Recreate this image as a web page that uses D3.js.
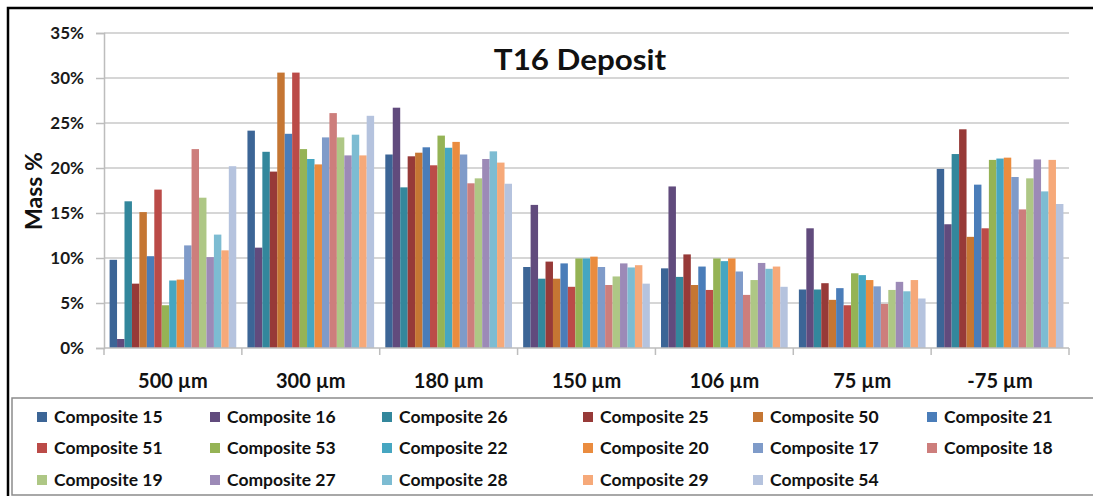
<!DOCTYPE html>
<html>
<head>
<meta charset="utf-8">
<script src="https://cdn.jsdelivr.net/npm/d3@7/dist/d3.min.js"></script>
<style>
  html, body { margin: 0; padding: 0; background: #fff; }
  svg { display: block; font-family: Lato, "Open Sans", sans-serif; }
</style>
</head>
<body>
<svg id="chart" width="1093" height="496"></svg>
<script>
// Size fractions of the T16 deposit, mass % retained per composite sample
const categories = ["500 µm", "300 µm", "180 µm", "150 µm", "106 µm", "75 µm", "-75 µm"];
const seriesNames = [
  "Composite 15", "Composite 16", "Composite 26", "Composite 25", "Composite 50", "Composite 21",
  "Composite 51", "Composite 53", "Composite 22", "Composite 20", "Composite 17", "Composite 18",
  "Composite 19", "Composite 27", "Composite 28", "Composite 29", "Composite 54"
];
const seriesColors = [
  "#3c6596", "#614b7d", "#33879c", "#973a38", "#c57633", "#4a7db9",
  "#bb4b48", "#95b355", "#46a6c1", "#ea8c3f", "#7f9bc9", "#cd7e7c",
  "#aec785", "#9c8ab7", "#7dbcd2", "#f6a979", "#b5c3de"
];
// one array per composite, one value per size class
const comp15 = [0.098, 0.2415, 0.215, 0.090, 0.0885, 0.065, 0.199];
const comp16 = [0.010, 0.1115, 0.267, 0.159, 0.1795, 0.133, 0.1375];
const comp26 = [0.163, 0.218, 0.1785, 0.077, 0.079, 0.065, 0.2155];
const comp25 = [0.0715, 0.196, 0.213, 0.096, 0.104, 0.072, 0.243];
const comp50 = [0.151, 0.306, 0.217, 0.077, 0.070, 0.0535, 0.1235];
const comp21 = [0.102, 0.238, 0.223, 0.094, 0.0905, 0.0665, 0.1815];
const comp51 = [0.176, 0.306, 0.203, 0.068, 0.0645, 0.0475, 0.133];
const comp53 = [0.0475, 0.221, 0.236, 0.0995, 0.0995, 0.083, 0.209];
const comp22 = [0.075, 0.210, 0.2225, 0.0995, 0.0965, 0.081, 0.2105];
const comp20 = [0.076, 0.204, 0.229, 0.1015, 0.0995, 0.0755, 0.2115];
const comp17 = [0.114, 0.234, 0.215, 0.090, 0.085, 0.0685, 0.190];
const comp18 = [0.221, 0.261, 0.183, 0.070, 0.059, 0.049, 0.154];
const comp19 = [0.167, 0.234, 0.1885, 0.0795, 0.0755, 0.0645, 0.1885];
const comp27 = [0.101, 0.214, 0.210, 0.094, 0.0945, 0.0735, 0.2095];
const comp28 = [0.126, 0.237, 0.2185, 0.0895, 0.088, 0.063, 0.174];
const comp29 = [0.1085, 0.214, 0.206, 0.092, 0.0905, 0.0755, 0.209];
const comp54 = [0.202, 0.258, 0.1825, 0.0715, 0.068, 0.055, 0.160];
const values = [comp15, comp16, comp26, comp25, comp50, comp21, comp51, comp53, comp22,
                comp20, comp17, comp18, comp19, comp27, comp28, comp29, comp54];
const yTicks = [0, 0.05, 0.10, 0.15, 0.20, 0.25, 0.30, 0.35];

const svg = d3.select("#chart");
const plot = { left: 104, right: 1069, top: 33, bottom: 348 };

// outer chart frame
svg.append("path")
  .attr("d", "M1093,8 H8 V496")
  .attr("fill", "none").attr("stroke", "#000").attr("stroke-width", 2.5);

const x0 = d3.scaleBand().domain(categories).range([plot.left, plot.right]).padding(0);
const x1 = d3.scaleBand().domain(d3.range(seriesNames.length))
  .range([0, x0.bandwidth()]).paddingInner(0).paddingOuter(0.75);
const y = d3.scaleLinear().domain([0, 0.35]).range([plot.bottom, plot.top]);

// horizontal gridlines
svg.append("g").selectAll("line").data(yTicks.slice(1)).join("line")
  .attr("x1", plot.left).attr("x2", plot.right)
  .attr("y1", d => y(d)).attr("y2", d => y(d))
  .attr("stroke", "#c8c8c8").attr("stroke-width", 1.6);

// y axis
const yAxis = svg.append("g").attr("transform", `translate(${plot.left},0)`)
  .call(d3.axisLeft(y).tickValues(yTicks).tickFormat(d3.format(".0%")).tickSize(8).tickPadding(12));
yAxis.select(".domain").attr("stroke", "#bdbdbd").attr("stroke-width", 1.5);
yAxis.selectAll(".tick line").attr("stroke", "#bdbdbd").attr("stroke-width", 1.5);
yAxis.selectAll(".tick text")
  .attr("font-family", "Lato, sans-serif").attr("font-size", 17).attr("font-weight", 700).attr("fill", "#1a1a1a");

// bars
const groups = svg.append("g").selectAll("g").data(categories).join("g")
  .attr("transform", d => `translate(${x0(d)},0)`);
groups.selectAll("rect")
  .data((c, ci) => values.map((v, si) => ({ si, v: v[ci] })))
  .join("rect")
  .attr("x", d => x1(d.si))
  .attr("width", x1.bandwidth())
  .attr("y", d => y(d.v))
  .attr("height", d => y(0) - y(d.v))
  .attr("fill", d => seriesColors[d.si]);

// x axis with ticks between categories
const xAxisG = svg.append("g");
xAxisG.append("line")
  .attr("x1", plot.left).attr("x2", plot.right)
  .attr("y1", plot.bottom).attr("y2", plot.bottom)
  .attr("stroke", "#bdbdbd").attr("stroke-width", 1.5);
const boundaries = categories.map(c => x0(c)).concat([x0(categories[categories.length - 1]) + x0.bandwidth()]);
xAxisG.selectAll("line.tk").data(boundaries).join("line").attr("class", "tk")
  .attr("x1", d => d).attr("x2", d => d)
  .attr("y1", plot.bottom).attr("y2", plot.bottom + 7)
  .attr("stroke", "#bdbdbd").attr("stroke-width", 1.5);
xAxisG.selectAll("text").data(categories).join("text")
  .attr("x", d => x0(d) + x0.bandwidth() / 2)
  .attr("y", 388)
  .attr("text-anchor", "middle")
  .attr("font-size", 20).attr("font-weight", 700).attr("fill", "#111")
  .text(d => d);

// axis title
svg.append("text")
  .attr("transform", "translate(42,191) rotate(-90)")
  .attr("text-anchor", "middle")
  .attr("font-size", 23).attr("font-weight", 700).attr("fill", "#111")
  .text("Mass %");

// chart title
svg.append("text")
  .attr("transform", "translate(580,70) scale(1.1,1)")
  .attr("text-anchor", "middle")
  .attr("font-size", 28.5).attr("font-weight", 700).attr("fill", "#111")
  .text("T16 Deposit");

// legend box
svg.append("path")
  .attr("d", "M1093,398 H12 V495 H1093")
  .attr("fill", "none").attr("stroke", "#8c8c8c").attr("stroke-width", 1.5);

const legendCols = [37, 210, 382, 583, 753, 927];
const legendRows = [417, 448, 480];
const legend = svg.append("g").selectAll("g").data(seriesNames).join("g")
  .attr("transform", (d, i) => `translate(${legendCols[i % 6]},${legendRows[Math.floor(i / 6)]})`);
legend.append("rect")
  .attr("x", 0).attr("y", -5).attr("width", 10).attr("height", 10)
  .attr("fill", (d, i) => seriesColors[i]);
legend.append("text")
  .attr("x", 17).attr("y", 6)
  .attr("font-size", 17.5).attr("font-weight", 700).attr("fill", "#111")
  .text(d => d);
</script>
</body>
</html>
